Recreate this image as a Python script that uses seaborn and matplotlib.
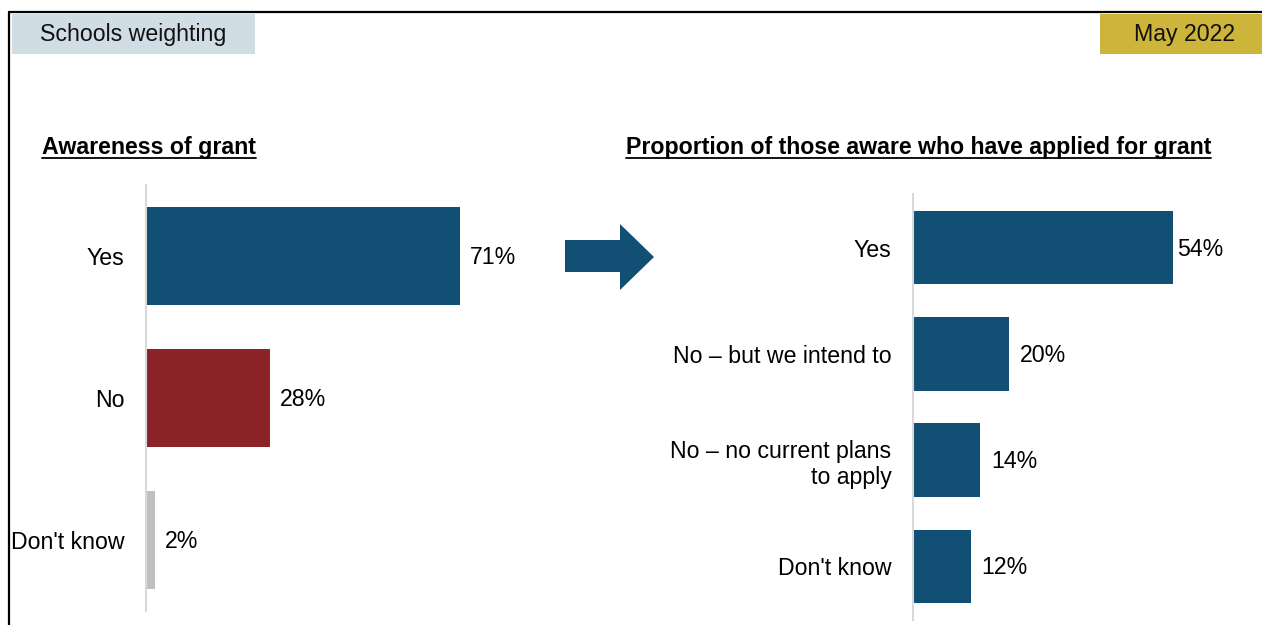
import matplotlib
matplotlib.use("Agg")
import matplotlib.pyplot as plt
from matplotlib.patches import Rectangle, Polygon
from matplotlib.lines import Line2D
import seaborn as sns
import pandas as pd

# Survey results
aware_answers = ["Yes", "No", "Don't know"]
aware_pct = [71, 28, 2]
aware_colors = ["#114F74", "#8B2429", "#BFBFBF"]

applied_answers = ["Yes", "No \u2013 but we intend to", "No \u2013 no current plans\nto apply", "Don't know"]
applied_pct = [54, 20, 14, 12]
applied_color = "#114F74"

left_title = "Awareness of grant"
right_title = "Proportion of those aware who have applied for grant"
tag_left = "Schools weighting"
tag_right = "May 2022"

W, H = 1262, 625
sns.set_theme(style="white")
plt.rcParams["font.family"] = ["Liberation Sans", "DejaVu Sans"]
FS = 16.7

fig = plt.figure(figsize=(W / 100, H / 100), dpi=100)


def fx(px):
    return px / W


def fy(py):
    return 1 - py / H


def style_axis(ax, xmax):
    ax.set_xlim(0, xmax)
    ax.set_xlabel("")
    ax.set_ylabel("")
    ax.set_xticks([])
    for side in ("top", "right", "bottom"):
        ax.spines[side].set_visible(False)
    ax.spines["left"].set_color("#D9D9D9")
    ax.spines["left"].set_linewidth(1.5)
    ax.tick_params(axis="y", length=0, pad=15.5, labelsize=FS, labelcolor="black")
    for lab in ax.get_yticklabels():
        lab.set_horizontalalignment("right")
    ax.patch.set_alpha(0)


def label_bars(ax, pads):
    bars = [b for cont in ax.containers for b in cont]
    bars.sort(key=lambda b: b.get_y())
    for b, pad in zip(bars, pads):
        ax.annotate(f"{int(round(b.get_width()))}%",
                    (b.get_width(), b.get_y() + b.get_height() / 2),
                    xytext=(pad, -1), textcoords="offset points",
                    ha="left", va="center", fontsize=FS, color="black")


# Left panel: awareness
ax1 = fig.add_axes([fx(146), fy(611), fx(442), 426 / H])
df1 = pd.DataFrame({"answer": aware_answers, "pct": aware_pct})
sns.barplot(data=df1, x="pct", y="answer", hue="answer", palette=aware_colors,
            legend=False, width=0.69, saturation=1, linewidth=0, ax=ax1)
style_axis(ax1, 100)
ax1.set_ylim(2.5, -0.5)
label_bars(ax1, [7.5, 7.5, 7.5])

# Right panel: applications among those aware
ax2 = fig.add_axes([fx(913), fy(619.5), 288.6 / W, 425 / H])
df2 = pd.DataFrame({"answer": applied_answers, "pct": applied_pct})
sns.barplot(data=df2, x="pct", y="answer", color=applied_color,
            width=0.69, saturation=1, linewidth=0, ax=ax2)
style_axis(ax2, 60)
ax2.set_ylim(3.5, -0.5)
label_bars(ax2, [3, 7.5, 7.5, 7.5])
for lab in ax2.get_yticklabels():
    lab.set_multialignment("right")

# Outer frame (left and top edges)
fig.add_artist(Line2D([fx(9), fx(9)], [fy(12), 0], color="black", lw=1.6,
                      transform=fig.transFigure))
fig.add_artist(Line2D([fx(9), 1], [fy(12), fy(12)], color="black", lw=1.6,
                      transform=fig.transFigure))

# Corner tags
fig.add_artist(Rectangle((fx(12), fy(54)), fx(243), 40 / H, facecolor="#D0DDE5",
                         edgecolor="none", transform=fig.transFigure))
fig.text(fx(133), fy(35), tag_left, ha="center", va="center", fontsize=FS, color="#111111")
fig.add_artist(Rectangle((fx(1100), fy(54)), fx(162), 40 / H, facecolor="#CDB43A",
                         edgecolor="none", transform=fig.transFigure))
fig.text(fx(1185), fy(35), tag_right, ha="center", va="center", fontsize=FS, color="#111111")

# Section headers with underline
fig.canvas.draw()
renderer = fig.canvas.get_renderer()
for x0, title in ((42, left_title), (626, right_title)):
    t = fig.text(fx(x0), fy(154), title, ha="left", va="baseline",
                 fontsize=FS, fontweight="bold", color="black")
    bb = t.get_window_extent(renderer)
    fig.add_artist(Line2D([bb.x0 / W, bb.x1 / W], [fy(157.5), fy(157.5)],
                          color="black", lw=1.3, transform=fig.transFigure))

# Arrow between the panels
arrow_px = [(565, 240), (620, 240), (620, 224), (654, 257), (620, 290), (620, 272), (565, 272)]
fig.add_artist(Polygon([(fx(x), fy(y)) for x, y in arrow_px], closed=True,
                       facecolor="#114F74", edgecolor="none", transform=fig.transFigure))

fig.savefig("out.png", dpi=100)
